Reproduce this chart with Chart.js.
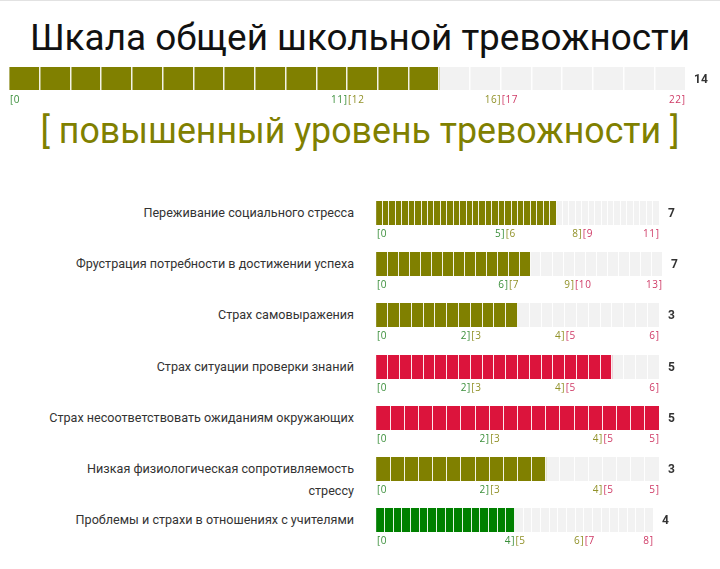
<!DOCTYPE html>
<html lang="ru">
<head>
<meta charset="utf-8">
<title>Шкала общей школьной тревожности</title>
<script src="https://cdn.jsdelivr.net/npm/chart.js@4.4.1/dist/chart.umd.min.js"></script>
<style>
  html, body { margin: 0; padding: 0; background: #fff; }
  body { width: 720px; height: 569px; position: relative; overflow: hidden; font-family: Roboto, "Noto Sans", sans-serif; }
  .topline { position: absolute; left: 0; top: 0; width: 720px; height: 1px; background: #e2e2e2; }
  .head { position: absolute; left: 360px; white-space: nowrap; line-height: 1; transform-origin: 50% 50%; }
  #title { top: 20px; font-size: 36px; color: #111; }
  #level { top: 112px; font-size: 37px; color: #808000; }
  .name { position: absolute; left: 0; width: 354px; text-align: right; font-size: 12.6px; color: #333; line-height: 22px; white-space: pre-line; }
  canvas { position: absolute; }
</style>
</head>
<body>
<div class="topline"></div>
<div id="title" class="head">Шкала общей школьной тревожности</div>
<div id="level" class="head"></div>
<canvas id="total"></canvas>

<script>
    // общая шкала
    const totalValue = 14;
    const totalMax = 22;
    const totalLow = 11;
    const totalMid = 16;
    const totalCells = 22;
    const totalLevel = '[ повышенный уровень тревожности ]';

    // субшкалы
    const scaleNames = [
        'Переживание социального стресса',
        'Фрустрация потребности в достижении успеха',
        'Страх самовыражения',
        'Страх ситуации проверки знаний',
        'Страх несоответствовать ожиданиям окружающих',
        'Низкая физиологическая сопротивляемость\nстрессу',
        'Проблемы и страхи в отношениях с учителями'
    ];
    const scaleValues = [7, 7, 3, 5, 5, 3, 4];
    const scaleMax = [11, 13, 6, 6, 5, 5, 8];
    const scaleLow = [5, 6, 2, 2, 2, 2, 4];
    const scaleMid = [8, 9, 4, 4, 4, 4, 6];
    const scaleCells = [44, 26, 24, 24, 20, 20, 32];

    const levelColors = ['#008000', '#808000', '#dc143c'];
    const labelColors = ['#3b8f3b', '#919128', '#cf3a66'];

    function levelOf(value, low, mid) {
        if (value <= low) return 0;
        if (value <= mid) return 1;
        return 2;
    }

    // подписи диапазонов под полосой и значение справа
    const rangeLabels = {
        id: 'rangeLabels',
        afterDraw(chart, args, opts) {
            const ctx = chart.ctx;
            const area = chart.chartArea;
            const x = chart.scales.x;
            const y = area.bottom + opts.offset;
            const pieces = [
                ['[0', 0, 'left', 0],
                [opts.low + ']', opts.low, 'right', 0],
                ['[' + (opts.low + 1), opts.low, 'left', 1],
                [opts.mid + ']', opts.mid, 'right', 1],
                ['[' + (opts.mid + 1), opts.mid, 'left', 2],
                [opts.max + ']', opts.max, 'right', 2]
            ];
            ctx.save();
            ctx.font = '10px "Open Sans"';
            ctx.letterSpacing = '0.6px';
            ctx.textBaseline = 'middle';
            pieces.forEach(function (p) {
                let px = x.getPixelForValue(p[1]);
                ctx.textAlign = p[2];
                ctx.fillStyle = labelColors[p[3]];
                if (p[2] === 'left') {
                    ctx.fillText(p[0], px + 1, y);
                } else {
                    ctx.fillText(p[0], px + 0.5, y);
                }
            });
            ctx.letterSpacing = '0px';
            ctx.font = 'bold 12px Roboto';
            ctx.fillStyle = '#333';
            ctx.textAlign = 'left';
            ctx.fillText(String(opts.value), area.right + opts.valueGap, (area.top + area.bottom) / 2 + 1);
            ctx.restore();
        }
    };

    function segmentBar(canvas, value, max, low, mid, cells, padRight, labelOffset, lineWidth) {
        let color = levelColors[levelOf(value, low, mid)];

        return new Chart(canvas, {
            type: 'bar',
            data: {
                labels: [''],
                datasets: [{
                    data: [value],
                    backgroundColor: color,
                    barPercentage: 1,
                    categoryPercentage: 1,
                    grouped: false
                }, {
                    data: [max],
                    backgroundColor: '#f2f2f2',
                    barPercentage: 1,
                    categoryPercentage: 1,
                    grouped: false
                }]
            },
            options: {
                indexAxis: 'y',
                responsive: false,
                animation: false,
                devicePixelRatio: 1,
                layout: { padding: { left: 0, top: 0, right: padRight, bottom: 22 } },
                events: [],
                plugins: {
                    legend: { display: false },
                    tooltip: { enabled: false },
                    rangeLabels: { value: value, max: max, low: low, mid: mid, offset: labelOffset, valueGap: 9 }
                },
                scales: {
                    x: {
                        min: 0,
                        max: max,
                        ticks: { display: false, stepSize: max / cells },
                        grid: {
                            z: 1,
                            drawTicks: false,
                            lineWidth: lineWidth,
                            color: function (c) {
                                if (!c.tick || c.tick.value <= 0 || c.tick.value >= max) return 'rgba(0,0,0,0)';
                                return 'rgba(255,255,255,0.9)';
                            }
                        },
                        border: { display: false }
                    },
                    y: { display: false }
                }
            },
            plugins: [rangeLabels]
        });
    }

    // заголовки подгоняются по ширине
    function fitHead(el, width) {
        let w = el.offsetWidth;
        el.style.transform = 'translateX(-50%) scaleX(' + (width / w) + ')';
    }
    document.getElementById('level').textContent = totalLevel;
    fitHead(document.getElementById('title'), 660);
    fitHead(document.getElementById('level'), 639);

    // общая полоса
    let totalCanvas = document.getElementById('total');
    totalCanvas.width = 706;
    totalCanvas.height = 45;
    totalCanvas.style.left = '9px';
    totalCanvas.style.top = '67px';
    segmentBar(totalCanvas, totalValue, totalMax, totalLow, totalMid, totalCells, 30, 10, 1.5);

    // строки субшкал
    const rowRight = [659, 662, 659, 659, 659, 659, 653];
    for (let i = 0; i < scaleNames.length; i++) {
        let top = Math.round(201 + i * 51.2);

        let name = document.createElement('div');
        name.className = 'name';
        name.textContent = scaleNames[i];
        name.style.top = (top + 1) + 'px';
        document.body.appendChild(name);

        let cv = document.createElement('canvas');
        cv.width = rowRight[i] - 376 + 40;
        cv.height = 46;
        cv.style.left = '376px';
        cv.style.top = top + 'px';
        document.body.appendChild(cv);

        segmentBar(cv, scaleValues[i], scaleMax[i], scaleLow[i], scaleMid[i], scaleCells[i], 40, 9, 1);
    }
</script>
</body>
</html>
